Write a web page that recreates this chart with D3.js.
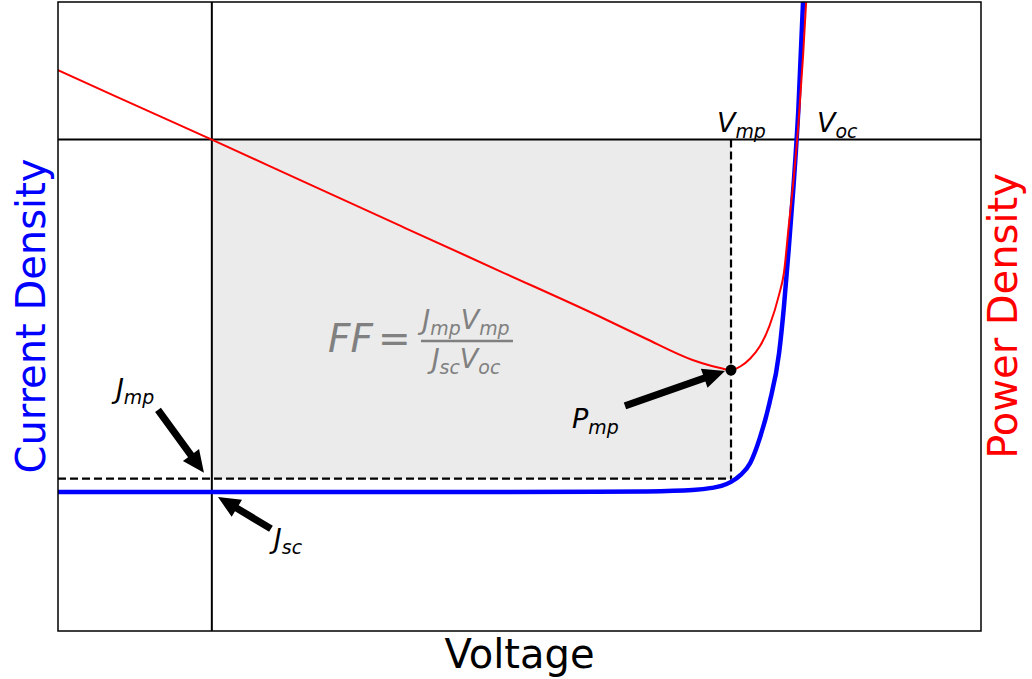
<!DOCTYPE html>
<html>
<head>
<meta charset="utf-8">
<script src="https://cdn.jsdelivr.net/npm/d3@7"></script>
<style>
  body { margin: 0; background: #fff; }
  text { font-family: "DejaVu Sans", sans-serif; }
</style>
</head>
<body>
<div id="chart"></div>
<script>
// J-V curve of a solar cell with its power density
const voltage = [-0.16, -0.1, 0, 0.1, 0.2, 0.3, 0.4, 0.45, 0.5, 0.52, 0.53, 0.54, 0.55, 0.56, 0.57, 0.58, 0.59, 0.595, 0.6, 0.605, 0.61, 0.615, 0.62];
const currentDensity = [-35.85, -35.85, -35.85, -35.85, -35.85, -35.85, -35.84, -35.8, -35.65, -35.44, -35.24, -34.83, -34.12, -32.9, -30.35, -26.79, -21.71, -17.03, -11.13, -4.72, 3.0, 14.2, 28];
const powerDensity = [5.66, 3.52, 0, -3.59, -7.16, -10.72, -14.28, -16.15, -17.94, -18.43, -18.62, -18.76, -18.45, -17.82, -16.83, -15.16, -12.62, -10.86, -7.07, -3.29, 1.19, 6.89, 13.8];

const Vmp = 0.54, Jmp = -34.5, Pmp = -18.76;

const annotations = [
  {main: 'J', sub: 'mp', text: [-0.0998, -26.28], from: [-0.056, -27.5], to: [-0.0082, -33.9]},
  {main: 'J', sub: 'sc', text: [0.0645, -41.54], from: [0.0615, -39.6], to: [0.0064, -36.36]},
  {main: 'P', sub: 'mp', text: [0.3746, -29.34], from: [0.4297, -27.1], to: [0.5337, -23.54]}
];

const margin = {top: 2, right: 51, bottom: 48, left: 58};
const W = 1032, H = 679;
const dim = {w: W - margin.left - margin.right, h: H - margin.top - margin.bottom};

const svg = d3.select('#chart').append('svg')
  .attr('width', W).attr('height', H);
svg.append('rect').attr('width', W).attr('height', H).attr('fill', '#fff');

const g = svg.append('g').attr('transform', `translate(${margin.left}, ${margin.top})`);

const x = d3.scaleLinear().domain([-0.16, 0.8]).range([0, dim.w]);
const yJ = d3.scaleLinear().domain([-50, 14]).range([dim.h, 0]);
const yP = d3.scaleLinear().domain([-40, 11.2]).range([dim.h, 0]);

g.append('clipPath').attr('id', 'clip')
  .append('rect').attr('width', dim.w).attr('height', dim.h);

const plot = g.append('g').attr('clip-path', 'url(#clip)');

// fill factor area
plot.append('rect')
  .attr('x', x(0)).attr('y', yJ(0))
  .attr('width', x(Vmp) - x(0)).attr('height', yJ(Jmp) - yJ(0))
  .attr('fill', '#ebebeb');

// zero lines
plot.append('line').attr('x1', x(0)).attr('x2', x(0)).attr('y1', 0).attr('y2', dim.h)
  .attr('stroke', '#000').attr('stroke-width', 2);
plot.append('line').attr('x1', 0).attr('x2', dim.w).attr('y1', yJ(0)).attr('y2', yJ(0))
  .attr('stroke', '#000').attr('stroke-width', 2);

// dashed guides to the max power point
plot.append('line').attr('x1', x(Vmp)).attr('x2', x(Vmp)).attr('y1', yJ(0)).attr('y2', yJ(Jmp))
  .attr('stroke', '#000').attr('stroke-width', 2.2).attr('stroke-dasharray', '8,4');
plot.append('line').attr('x1', 0).attr('x2', x(Vmp)).attr('y1', yJ(Jmp)).attr('y2', yJ(Jmp))
  .attr('stroke', '#000').attr('stroke-width', 2.2).attr('stroke-dasharray', '8,4');

const pts = d3.zip(voltage, currentDensity, powerDensity);

plot.append('path').datum(pts)
  .attr('fill', 'none').attr('stroke', '#0000ff').attr('stroke-width', 4.5)
  .attr('d', d3.line().x(d => x(d[0])).y(d => yJ(d[1])).curve(d3.curveMonotoneX));

plot.append('path').datum(pts)
  .attr('fill', 'none').attr('stroke', '#ff0000').attr('stroke-width', 2)
  .attr('d', d3.line().x(d => x(d[0])).y(d => yP(d[2])).curve(d3.curveMonotoneX));

plot.append('circle').attr('cx', x(Vmp)).attr('cy', yP(Pmp)).attr('r', 5.5).attr('fill', '#000');

// arrows
function arrow(x1, y1, x2, y2) {
  const dx = x2 - x1, dy = y2 - y1, L = Math.hypot(dx, dy);
  const ux = dx / L, uy = dy / L, px = -uy, py = ux;
  const hl = 22, hw = 10, sw = 3.6;
  const bx = x2 - ux * hl, by = y2 - uy * hl;
  return [
    [x1 + px * sw, y1 + py * sw], [bx + px * sw, by + py * sw], [bx + px * hw, by + py * hw],
    [x2, y2], [bx - px * hw, by - py * hw], [bx - px * sw, by - py * sw], [x1 - px * sw, y1 - py * sw]
  ];
}

// italic label with subscript, mathtext style
function mathLabel(sel, px, py, main, sub, size, color) {
  const t = sel.append('text').attr('x', px).attr('y', py)
    .attr('font-size', size).attr('font-style', 'italic').attr('fill', color);
  t.append('tspan').text(main);
  t.append('tspan').attr('font-size', size * 0.7).attr('dy', size * 0.22).text(sub);
  return t;
}

function mathPair(sel, px, py, a, b, size, color, anchor) {
  const t = sel.append('text').attr('x', px).attr('y', py)
    .attr('font-size', size).attr('font-style', 'italic').attr('fill', color)
    .attr('text-anchor', anchor);
  t.append('tspan').text(a[0]);
  t.append('tspan').attr('font-size', size * 0.7).attr('dy', size * 0.22).text(a[1]);
  t.append('tspan').attr('dy', -size * 0.22).text(b[0]);
  t.append('tspan').attr('font-size', size * 0.7).attr('dy', size * 0.22).text(b[1]);
  return t;
}

annotations.forEach(a => {
  g.append('polygon')
    .attr('points', arrow(x(a.from[0]), yJ(a.from[1]), x(a.to[0]), yJ(a.to[1])).map(p => p.join(',')).join(' '))
    .attr('fill', '#000');
  mathLabel(g, x(a.text[0]), yJ(a.text[1]), a.main, a.sub, 27, '#000');
});

mathLabel(g, x(0.5254), yJ(0.775), 'V', 'mp', 27, '#000');
mathLabel(g, x(0.6294), yJ(0.775), 'V', 'oc', 27, '#000');

// fill factor formula
const ff = g.append('g').attr('transform', `translate(${x(0.1208)}, ${yJ(-21.6)})`);
ff.append('text').attr('x', 0).attr('y', 0).attr('font-size', 39).attr('font-style', 'italic')
  .attr('fill', '#808080').text('FF');
ff.append('text').attr('x', 50).attr('y', 0).attr('font-size', 39)
  .attr('fill', '#808080').text('=');
mathPair(ff, 138, -23, ['J', 'mp'], ['V', 'mp'], 27, '#808080', 'middle');
mathPair(ff, 138, 16, ['J', 'sc'], ['V', 'oc'], 27, '#808080', 'middle');
ff.append('line').attr('x1', 93).attr('x2', 185).attr('y1', -11).attr('y2', -11)
  .attr('stroke', '#808080').attr('stroke-width', 2.5);

// frame
g.append('rect').attr('width', dim.w).attr('height', dim.h)
  .attr('fill', 'none').attr('stroke', '#000').attr('stroke-width', 1.5);

// axis titles
svg.append('text').attr('x', margin.left + dim.w / 2).attr('y', 668)
  .attr('text-anchor', 'middle').attr('font-size', 40).attr('fill', '#000').text('Voltage');
svg.append('text').attr('transform', `translate(45, ${margin.top + 314}) rotate(-90)`)
  .attr('text-anchor', 'middle').attr('font-size', 40).attr('fill', '#0000ff').text('Current Density');
svg.append('text').attr('transform', `translate(1017, ${margin.top + 314}) rotate(-90)`)
  .attr('text-anchor', 'middle').attr('font-size', 40).attr('fill', '#ff0000').text('Power Density');
</script>
</body>
</html>
